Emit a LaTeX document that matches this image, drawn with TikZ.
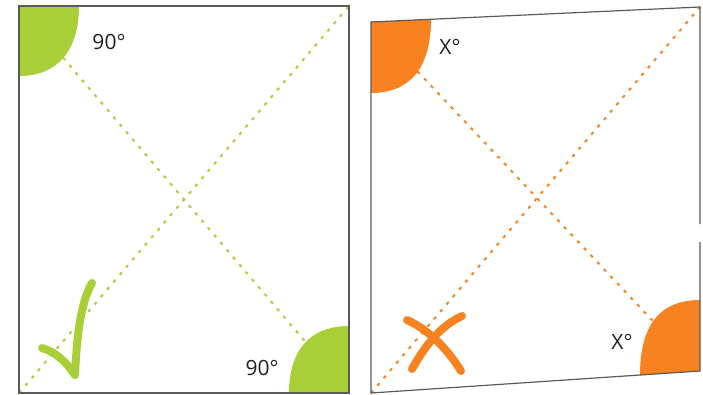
\documentclass[tikz,border=0pt]{standalone}
\usepackage{fontspec}
\setmainfont{Open Sans}
\definecolor{lime}{HTML}{A8CF38}
\definecolor{orng}{HTML}{F7821F}
\definecolor{edge}{HTML}{5A5A5A}
\definecolor{txt}{HTML}{231F20}
\tikzset{
  frame/.style={draw=edge, line width=1.2pt},
  diag/.style={line width=2pt, dash pattern=on 3.2pt off 6.5pt},
  penstroke/.style={line width=8pt, line cap=round, line join=round},
  lbl/.style={text=txt, font=\fontsize{21}{23}\selectfont, inner sep=0pt}
}
\begin{document}
\begin{tikzpicture}[x=1pt,y=-1pt]
\useasboundingbox (0,0) rectangle (703,394);
% ---------- left square (green) ----------
\coordinate (ltl) at (19,6);
\coordinate (ltr) at (349,6);
\coordinate (lbr) at (349,393);
\coordinate (lbl) at (19,393);
\draw[diag, lime] (ltl) -- (lbr);
\draw[diag, lime] (lbl) -- (ltr);
\fill[lime] (19,6) -- (79,6) .. controls (79,50) and (58,76) .. (19,76) -- cycle;
\fill[lime] (349,393) -- (289,393) .. controls (289,350) and (310,326) .. (349,326) -- cycle;
\draw[frame] (ltl) -- (ltr) -- (lbr) -- (lbl) -- cycle;
\node[lbl] (a1) at (109,42) {90°};
\node[lbl] (a2) at (262,368) {90°};
\draw[penstroke, lime] (42,348) .. controls (56,352) and (66,362) .. (75,375)
  .. controls (77,330) and (82,300) .. (92,283);
% ---------- right quadrilateral (orange) ----------
\coordinate (rtl) at (371,22);
\coordinate (rtr) at (700,7);
\coordinate (rbr) at (700,371);
\coordinate (rbl) at (371,393);
\draw[diag, orng] (rtl) -- (rbr);
\draw[diag, orng] (rbl) -- (rtr);
\fill[orng] (371,22) -- (431,19.3) .. controls (431,68) and (410,93) .. (371,93) -- cycle;
\fill[orng] (700,371) -- (640,375) .. controls (640,325) and (660,300) .. (700,300) -- cycle;
\coordinate (gapA) at (700,224);
\coordinate (gapB) at (700,242);
\draw[frame] (gapB) -- (rbr) -- (rbl) -- (rtl) -- (rtr) -- (gapA);
\node[lbl] (b1) at (450,47) {X°};
\node[lbl] (b2) at (622,342) {X°};
\draw[penstroke, orng] (407,320) .. controls (425,328) and (445,345) .. (461,371);
\draw[penstroke, orng] (412,369) .. controls (425,346) and (440,326) .. (462,316);
\end{tikzpicture}
\end{document}
